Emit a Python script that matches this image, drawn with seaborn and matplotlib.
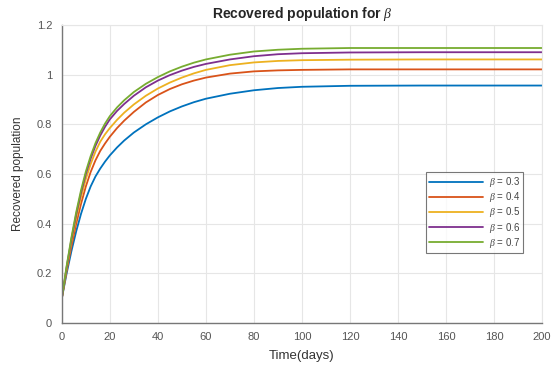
import numpy as np
import pandas as pd
import matplotlib
matplotlib.use("Agg")
import matplotlib.pyplot as plt
import seaborn as sns
from matplotlib.ticker import FormatStrFormatter

# values
days = [0, 2, 4, 6, 8, 10, 12, 14, 16, 18, 20, 23, 26, 30, 35, 40, 45, 50, 55, 60,
        70, 80, 90, 100, 120, 150, 200]

r_b03 = [0.10, 0.20, 0.29, 0.37, 0.44, 0.50, 0.55, 0.59, 0.622, 0.65, 0.675,
         0.707, 0.735, 0.767, 0.80, 0.828, 0.852, 0.872, 0.889, 0.903, 0.923, 0.937,
         0.946, 0.951, 0.955, 0.956, 0.956]
r_b04 = [0.10, 0.21, 0.31, 0.40, 0.48, 0.55, 0.608, 0.655, 0.693, 0.723, 0.75,
         0.785, 0.815, 0.85, 0.888, 0.918, 0.942, 0.961, 0.976, 0.988, 1.004, 1.013,
         1.017, 1.019, 1.021, 1.021, 1.021]
r_b05 = [0.10, 0.22, 0.328, 0.424, 0.508, 0.58, 0.64, 0.69, 0.73, 0.76, 0.785,
         0.818, 0.847, 0.88, 0.915, 0.944, 0.968, 0.988, 1.005, 1.019, 1.038, 1.049,
         1.055, 1.058, 1.06, 1.061, 1.061]
r_b06 = [0.10, 0.225, 0.338, 0.438, 0.525, 0.60, 0.662, 0.713, 0.755, 0.79, 0.82,
         0.854, 0.882, 0.915, 0.949, 0.976, 0.998, 1.016, 1.031, 1.043, 1.061, 1.074,
         1.082, 1.086, 1.089, 1.09, 1.09]
r_b07 = [0.10, 0.23, 0.345, 0.447, 0.535, 0.61, 0.672, 0.724, 0.767, 0.803, 0.833,
         0.868, 0.897, 0.93, 0.963, 0.99, 1.013, 1.032, 1.048, 1.061, 1.08, 1.093,
         1.10, 1.104, 1.107, 1.107, 1.107]

betas = ["0.3", "0.4", "0.5", "0.6", "0.7"]
series = [r_b03, r_b04, r_b05, r_b06, r_b07]
colors = ["#0072BD", "#D95319", "#EDB120", "#7E2F8E", "#77AC30"]

# long format table for seaborn
rows = []
for b, vals in zip(betas, series):
    label = r"$\beta$ = " + b
    for t, v in zip(days, vals):
        rows.append({"day": t, "R": v, "beta": label})
df = pd.DataFrame(rows)

sns.set_theme(style="whitegrid")
plt.rcParams["font.family"] = ["Liberation Sans", "DejaVu Sans"]
plt.rcParams["mathtext.fontset"] = "custom"
plt.rcParams["mathtext.it"] = "Liberation Serif:italic"

fig = plt.figure(figsize=(5.52, 3.66), dpi=100)
ax = fig.add_axes([0.112, 0.117, 0.870, 0.815])

sns.lineplot(data=df, x="day", y="R", hue="beta", palette=colors,
             linewidth=1.3, ax=ax)

ax.set_xlim(0, 200)
ax.set_ylim(0, 1.2)
ax.set_xticks(np.arange(0, 201, 20))
ax.set_yticks(np.arange(0, 1.21, 0.2))
ax.yaxis.set_major_formatter(FormatStrFormatter("%g"))
ax.tick_params(direction="in", length=3, labelsize=8, colors="#555555")
ax.tick_params(axis="x", pad=6)
ax.tick_params(axis="y", pad=7)
ax.set_facecolor("white")
ax.grid(True, color="#e6e6e6", linewidth=0.8)
for s in ["left", "bottom"]:
    ax.spines[s].set_color("#777777")
    ax.spines[s].set_linewidth(1.0)
for s in ["top", "right"]:
    ax.spines[s].set_color("#e6e6e6")
    ax.spines[s].set_linewidth(0.8)

ax.set_title(r"Recovered population for $\beta$", fontsize=10,
             fontweight="bold", pad=5)
ax.set_xlabel("Time(days)", fontsize=9.5, color="#333333", labelpad=6)
ax.set_ylabel("Recovered population", fontsize=8.5, color="#333333", labelpad=9)

leg = ax.legend(loc="lower right", bbox_to_anchor=(0.97, 0.22), fontsize=7,
                handlelength=5.5, frameon=True, fancybox=False,
                borderpad=0.3, labelspacing=0.12, handletextpad=0.6)
leg.get_frame().set_edgecolor("#555555")
leg.get_frame().set_linewidth(0.8)
for txt in leg.get_texts():
    txt.set_color("#444444")

fig.savefig("out.png", dpi=100)
